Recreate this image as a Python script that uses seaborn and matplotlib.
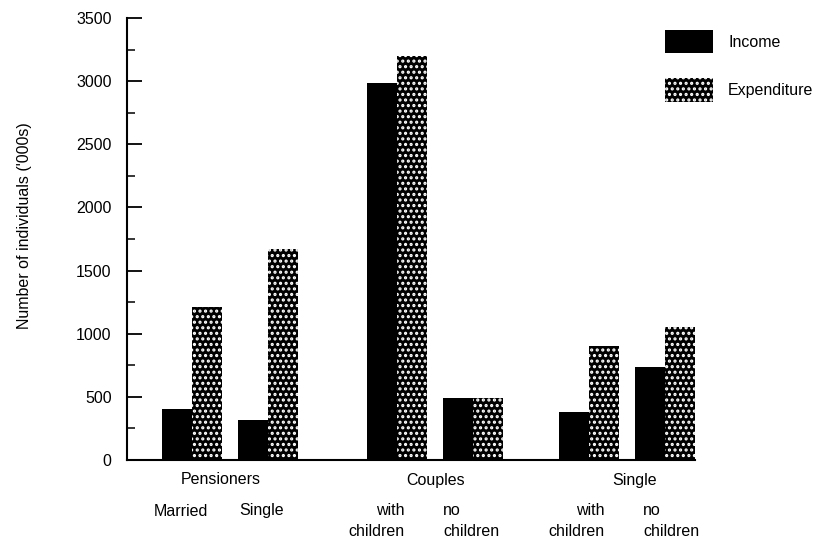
# -*- coding: utf-8 -*-
"""
Income vs expenditure, number of individuals by household type
"""

import numpy as np
import pandas as pd
import matplotlib
matplotlib.use("Agg")
import matplotlib.pyplot as plt
import matplotlib.transforms as mtrans
from matplotlib.patches import Patch
import seaborn as sns

# data ('000s)
groups = ["Pensioners", "Pensioners", "Couples", "Couples", "Single", "Single"]
subgroups = ["Married", "Single", "with\nchildren", "no\nchildren", "with\nchildren", "no\nchildren"]
income = [400, 320, 2985, 490, 380, 740]
expenditure = [1210, 1670, 3200, 490, 900, 1050]
series = ["Income", "Expenditure"]
yticks = [0, 500, 1000, 1500, 2000, 2500, 3000, 3500]

# layout: slot position of each bar pair (groups are spaced a bit wider)
pos = [0, 1, 2.7, 3.7, 5.22, 6.22]

df = pd.DataFrame({
    "pos": pos * 2,
    "value": income + expenditure,
    "series": [series[0]] * 6 + [series[1]] * 6,
})

sns.set_style("white")
plt.rcParams["font.family"] = ["Liberation Sans", "DejaVu Sans"]
plt.rcParams["hatch.linewidth"] = 1.5
for key in ["text.color", "axes.labelcolor", "xtick.color", "ytick.color"]:
    plt.rcParams[key] = "black"

FS = 11.5
fig = plt.figure(figsize=(8.29, 5.42), dpi=100)
ax = fig.add_axes([127 / 829, 82 / 542, (695 - 127) / 829, 442 / 542])

sns.barplot(data=df, x="pos", y="value", hue="series", hue_order=series,
            palette={"Income": "black", "Expenditure": "black"},
            native_scale=True, width=0.79, saturation=1, legend=False, ax=ax)

# dotted fill for expenditure bars
for bar in ax.containers[1]:
    bar.set_facecolor("black")
    bar.set_edgecolor("white")
    bar.set_linewidth(0)
    bar.set_hatch("...")
for bar in ax.containers[0]:
    bar.set_edgecolor("black")
    bar.set_linewidth(0)

ax.set_xlim(-0.855, 6.615)
ax.set_ylim(0, 3500)
ax.set_yticks(yticks)
ax.set_yticks(np.arange(250, 3500, 500), minor=True)
ax.set_xticks([])
ax.set_xlabel("")
ax.tick_params(axis="y", which="major", direction="in", length=11, width=1.3,
               pad=11, labelsize=FS, colors="black", left=True)
ax.tick_params(axis="y", which="minor", direction="in", length=6, width=1.1, left=True)

for side in ["top", "right"]:
    ax.spines[side].set_visible(False)
for side in ["left", "bottom"]:
    ax.spines[side].set_color("black")
    ax.spines[side].set_linewidth(1.5)

ax.set_ylabel("Number of individuals ('000s)", fontsize=FS)
ax.yaxis.set_label_coords(-0.167, 0.53)

# group and sub-group labels below the axis
trans = mtrans.blended_transform_factory(ax.transData, ax.transAxes)
ybase = (460 - 480) / 442
ysub = (460 - 511) / 442
ytop = (460 - 503) / 442
ax.text(0.38, ybase, "Pensioners", transform=trans, ha="center", va="center", fontsize=FS)
ax.text(3.2, ybase, "Couples", transform=trans, ha="center", va="center", fontsize=FS)
ax.text(5.82, ybase, "Single", transform=trans, ha="center", va="center", fontsize=FS)

sub_x = [-0.145, 0.92, 2.79, 3.30, 5.42, 5.93]
sub_ha = ["center", "center", "right", "left", "right", "left"]
for x, lab, ha in zip(sub_x, subgroups, sub_ha):
    if "\n" in lab:
        ax.text(x, ytop, lab, transform=trans, ha=ha, va="top",
                fontsize=FS, linespacing=1.5, multialignment=ha)
    else:
        ax.text(x, ysub, lab, transform=trans, ha=ha, va="center", fontsize=FS)

# legend
handles = [Patch(facecolor="black", edgecolor="black", linewidth=0),
           Patch(facecolor="black", edgecolor="white", linewidth=0, hatch="...")]
fig.legend(handles, series, loc="upper left", bbox_to_anchor=(665 / 829, 1 - 30 / 542),
           frameon=False, fontsize=FS, handlelength=34.6 / FS, handleheight=21.6 / FS,
           labelspacing=18 / FS, handletextpad=10.8 / FS, borderpad=0, borderaxespad=0)

fig.savefig("out.png", dpi=100)
